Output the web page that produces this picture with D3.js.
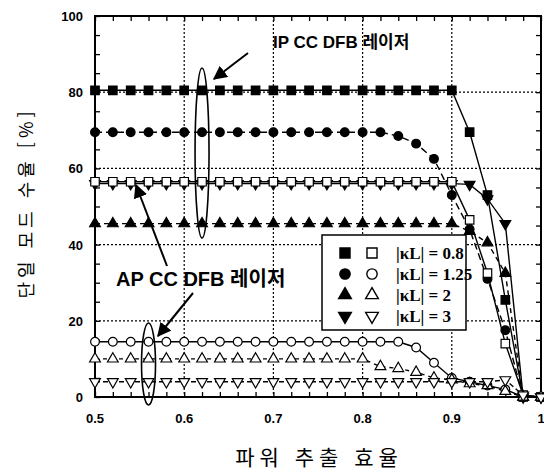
<!DOCTYPE html>
<html lang="ko">
  <head>
    <meta charset="UTF-8" />
    <title>단일 모드 수율</title>
    <script src="https://d3js.org/d3.v7.min.js"></script>
    <style>
      body { margin: 0; background: #fff; }
      svg { display: block; }
    </style>
  </head>
  <body>
    <svg id="chart" width="544" height="475"></svg>
    <script>
      // power extraction efficiency (x)
      const xs = [0.5, 0.52, 0.54, 0.56, 0.58, 0.6, 0.62, 0.64, 0.66, 0.68, 0.7, 0.72, 0.74,
        0.76, 0.78, 0.8, 0.82, 0.84, 0.86, 0.88, 0.9, 0.92, 0.94, 0.96, 0.98, 1.0];

      // IP CC DFB (filled markers)
      const ipSquare = [80.5, 80.5, 80.5, 80.5, 80.5, 80.5, 80.5, 80.5, 80.5, 80.5, 80.5, 80.5, 80.5,
        80.5, 80.5, 80.5, 80.5, 80.5, 80.5, 80.5, 80.5, 69.5, 53, 25.5, 0, 0];
      const ipCircle = [69.5, 69.5, 69.5, 69.5, 69.5, 69.5, 69.5, 69.5, 69.5, 69.5, 69.5, 69.5, 69.5,
        69.5, 69.5, 69.5, 69.5, 68.5, 66.5, 62.5, 53, 44, 31, 17.5, 0, 0];
      const ipTriUp = [45.5, 45.5, 45.5, 45.5, 45.5, 45.5, 45.5, 45.5, 45.5, 45.5, 45.5, 45.5, 45.5,
        45.5, 45.5, 45.5, 45.5, 45.5, 45.5, 45.5, 45.5, 43.5, 40.5, 32.5, 0, 0];
      const ipTriDown = [56, 56, 56, 56, 56, 56, 56, 56, 56, 56, 56, 56, 56,
        56, 56, 56, 56, 56, 56, 56, 56, 55.8, 52, 45.5, 0, 0];

      // AP CC DFB (open markers)
      const apSquare = [56.5, 56.5, 56.5, 56.5, 56.5, 56.5, 56.5, 56.5, 56.5, 56.5, 56.5, 56.5, 56.5,
        56.5, 56.5, 56.5, 56.5, 56.5, 56.5, 56.5, 56.5, 46.5, 32.5, 14, 0.5, 0];
      const apCircle = [14.5, 14.5, 14.5, 14.5, 14.5, 14.5, 14.5, 14.5, 14.5, 14.5, 14.5, 14.5, 14.5,
        14.5, 14.5, 14.5, 14.5, 14.5, 13, 9, 5, 4, 3, 2, 0, 0];
      const apTriUp = [10, 10, 10, 10, 10, 10, 10, 10, 10, 10, 10, 10, 10,
        10, 10, 10, 8, 7.5, 6.5, 5, 4.5, 3.5, 3, 1.5, 0, 0];
      const apTriDown = [4, 4, 4, 4, 4, 4, 4, 4, 4, 4, 4, 4, 4,
        4, 4, 4, 4, 4, 4, 4, 4, 4, 4, 4.5, 0.5, 0];

      const legendLabels = ["0.8", "1.25", "2", "3"];
      const xTicks = [0.5, 0.6, 0.7, 0.8, 0.9, 1];
      const yTicks = [0, 20, 40, 60, 80, 100];

      const series = [
        { values: ipSquare, shape: "square", filled: true, dash: null },
        { values: ipCircle, shape: "circle", filled: true, dash: "7,4" },
        { values: ipTriUp, shape: "up", filled: true, dash: "5,4" },
        { values: ipTriDown, shape: "down", filled: true, dash: null },
        { values: apSquare, shape: "square", filled: false, dash: null },
        { values: apCircle, shape: "circle", filled: false, dash: null },
        { values: apTriUp, shape: "up", filled: false, dash: "4,4" },
        { values: apTriDown, shape: "down", filled: false, dash: "5,3" },
      ];

      const svg = d3.select("#chart"),
        margin = { top: 16, right: 3, bottom: 78, left: 95 },
        width = +svg.attr("width") - margin.left - margin.right,
        height = +svg.attr("height") - margin.top - margin.bottom,
        chart = svg.append("g").attr("transform", `translate(${margin.left},${margin.top})`);

      const x = d3.scaleLinear().domain([0.5, 1]).range([0, width]);
      const y = d3.scaleLinear().domain([0, 100]).range([height, 0]);

      // dotted grid
      chart.append("g")
        .selectAll("line.gx")
        .data([0.6, 0.7, 0.8, 0.9])
        .enter().append("line")
        .attr("x1", (d) => x(d)).attr("x2", (d) => x(d))
        .attr("y1", 0).attr("y2", height)
        .attr("stroke", "#000").attr("stroke-width", 1.2).attr("stroke-dasharray", "2,2");
      chart.append("g")
        .selectAll("line.gy")
        .data([20, 40, 60, 80])
        .enter().append("line")
        .attr("x1", 0).attr("x2", width)
        .attr("y1", (d) => y(d)).attr("y2", (d) => y(d))
        .attr("stroke", "#000").attr("stroke-width", 1.2).attr("stroke-dasharray", "2,2");

      // axes with inward ticks on all four sides
      const minorX = d3.range(0.5, 1.001, 0.02);
      const minorY = d3.range(0, 100.1, 5);
      const fmtX = (d) => (d === 1 ? "1" : d3.format(".1f")(d));

      const axB = chart.append("g").attr("transform", `translate(0,${height})`)
        .call(d3.axisBottom(x).tickValues(minorX).tickSize(-5).tickFormat(""));
      const axT = chart.append("g")
        .call(d3.axisTop(x).tickValues(minorX).tickSize(-5).tickFormat(""));
      const axL = chart.append("g")
        .call(d3.axisLeft(y).tickValues(minorY).tickSize(-5).tickFormat(""));
      const axR = chart.append("g").attr("transform", `translate(${width},0)`)
        .call(d3.axisRight(y).tickValues(minorY).tickSize(-5).tickFormat(""));
      [axB, axT, axL, axR].forEach((a) => {
        a.select(".domain").remove();
        a.selectAll("line").attr("stroke", "#000").attr("stroke-width", 1.3);
      });

      chart.append("rect")
        .attr("width", width).attr("height", height)
        .attr("fill", "none").attr("stroke", "#000").attr("stroke-width", 2);

      // tick labels
      chart.append("g")
        .selectAll("text")
        .data(xTicks)
        .enter().append("text")
        .attr("x", (d) => x(d)).attr("y", height + 26)
        .attr("text-anchor", "middle")
        .style("font", "bold 13px Arial, 'Liberation Sans', sans-serif")
        .text(fmtX);
      chart.append("g")
        .selectAll("text")
        .data(yTicks)
        .enter().append("text")
        .attr("x", -12).attr("y", (d) => y(d) + 5)
        .attr("text-anchor", "end")
        .style("font", "bold 13px Arial, 'Liberation Sans', sans-serif")
        .text((d) => d);

      // axis titles
      svg.append("text")
        .attr("transform", `translate(33,${margin.top + 187}) rotate(-90)`)
        .attr("text-anchor", "middle")
        .style("font", "18px 'Noto Sans CJK KR', sans-serif")
        .style("letter-spacing", "4px")
        .text("단일 모드 수율 [%]");
      svg.append("text")
        .attr("x", 319).attr("y", 465)
        .attr("text-anchor", "middle")
        .style("font", "21px 'Noto Sans CJK KR', sans-serif")
        .style("letter-spacing", "5px")
        .text("파워 추출 효율");

      // markers
      const symbolFor = (shape, big) => {
        const s = big ? 1.4 : 1;
        if (shape === "square") return d3.symbol(d3.symbolSquare, 72 * s)();
        if (shape === "circle") return d3.symbol(d3.symbolCircle, 60 * s)();
        return d3.symbol(d3.symbolTriangle, 50 * s)();
      };

      const line = d3.line().x((d, i) => x(xs[i])).y((d) => y(d));

      series.forEach((s) => {
        chart.append("path")
          .datum(s.values)
          .attr("d", line)
          .attr("fill", "none")
          .attr("stroke", "#000")
          .attr("stroke-width", 1.4)
          .attr("stroke-dasharray", s.dash);
      });

      series.forEach((s) => {
        chart.append("g")
          .selectAll("path")
          .data(s.values)
          .enter().append("path")
          .attr("d", symbolFor(s.shape, false))
          .attr("transform", (d, i) =>
            `translate(${x(xs[i])},${y(d)})` + (s.shape === "down" ? " rotate(180)" : ""))
          .attr("fill", s.filled ? "#000" : "#fff")
          .attr("stroke", "#000")
          .attr("stroke-width", 1.2);
      });

      // legend
      const lg = svg.append("g").attr("transform", "translate(322,235)");
      lg.append("rect")
        .attr("width", 144).attr("height", 95)
        .attr("fill", "#fff").attr("stroke", "#000").attr("stroke-width", 1.5);
      const shapes = ["square", "circle", "up", "down"];
      legendLabels.forEach((lab, i) => {
        const ry = 18 + i * 21;
        [true, false].forEach((filled, j) => {
          lg.append("path")
            .attr("d", symbolFor(shapes[i], true))
            .attr("transform", `translate(${23 + j * 27},${ry})` + (shapes[i] === "down" ? " rotate(180)" : ""))
            .attr("fill", filled ? "#000" : "#fff")
            .attr("stroke", "#000")
            .attr("stroke-width", 1.4);
        });
        lg.append("text")
          .attr("x", 74).attr("y", ry + 6)
          .style("font", "bold 17px 'Liberation Serif', 'Times New Roman', serif")
          .text(`|κL| = ${lab}`);
      });

      // annotations
      const ann = svg.append("g");
      svg.append("defs").append("marker")
        .attr("id", "arrow").attr("viewBox", "0 0 10 10")
        .attr("refX", 9).attr("refY", 5)
        .attr("markerWidth", 7).attr("markerHeight", 7)
        .attr("orient", "auto")
        .append("path").attr("d", "M0,0 L10,5 L0,10 Z").attr("fill", "#000");

      const labelFont = "Arial, 'Liberation Sans', 'Noto Sans CJK KR', sans-serif";
      ann.append("text").attr("x", 273).attr("y", 48)
        .style("font", "bold 17px " + labelFont)
        .text("IP CC DFB 레이저");
      ann.append("text").attr("x", 116).attr("y", 286)
        .style("font", "bold 20px " + labelFont)
        .text("AP CC DFB 레이저");

      const arrows = [
        [248, 53, 214, 79],
        [167, 266, 136, 185],
        [193, 293, 158, 336],
      ];
      ann.selectAll("line.arr")
        .data(arrows)
        .enter().append("line")
        .attr("x1", (d) => d[0]).attr("y1", (d) => d[1])
        .attr("x2", (d) => d[2]).attr("y2", (d) => d[3])
        .attr("stroke", "#000").attr("stroke-width", 2)
        .attr("marker-end", "url(#arrow)");

      // ellipses around the selected points
      [
        { cx: x(0.62) + margin.left, cy: 153, rx: 7, ry: 85 },
        { cx: x(0.56) + margin.left, cy: 364, rx: 7, ry: 41 },
      ].forEach((e) => {
        ann.append("ellipse")
          .attr("cx", e.cx).attr("cy", e.cy).attr("rx", e.rx).attr("ry", e.ry)
          .attr("fill", "none").attr("stroke", "#000").attr("stroke-width", 1.6);
      });
    </script>
  </body>
</html>
